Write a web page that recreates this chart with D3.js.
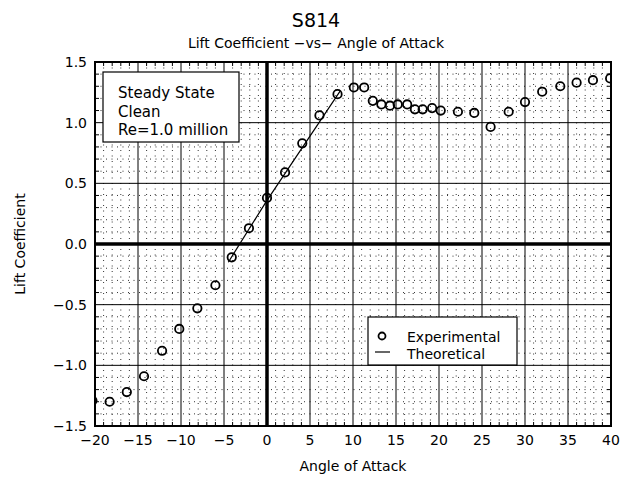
<!DOCTYPE html>
<html>
<head>
<meta charset="utf-8">
<script src="https://cdn.jsdelivr.net/npm/d3@7"></script>
<style>
  body { margin: 0; background: #fff; }
  text { font-family: "DejaVu Sans", sans-serif; fill: #000; }
</style>
</head>
<body>
<svg id="chart" width="620" height="477"></svg>
<script>

// experimental points
var alphaExp = [-20.3, -18.3, -16.3, -14.3, -12.2, -10.2, -8.1, -6.0, -4.1, -2.1,
                0.0, 2.1, 4.1, 6.1, 8.2, 10.1, 11.3, 12.3, 13.3, 14.3,
                15.2, 16.3, 17.2, 18.1, 19.2, 20.2, 22.2, 24.1, 26.0, 28.1,
                30.0, 32.0, 34.1, 36.0, 37.9, 39.9];
var clExp = [-1.29, -1.30, -1.22, -1.09, -0.88, -0.70, -0.53, -0.34, -0.11, 0.13,
             0.38, 0.59, 0.83, 1.06, 1.235, 1.29, 1.29, 1.18, 1.15, 1.14,
             1.15, 1.15, 1.11, 1.11, 1.12, 1.10, 1.09, 1.08, 0.965, 1.09,
             1.17, 1.255, 1.30, 1.33, 1.35, 1.365];

// theoretical line
var alphaTheo = [-4.5, 0, 8.5];
var clTheo = [-0.15, 0.36, 1.26];

var xTicks = [-20, -15, -10, -5, 0, 5, 10, 15, 20, 25, 30, 35, 40];
var yTicks = [-1.5, -1.0, -0.5, 0.0, 0.5, 1.0, 1.5];

var titleText = "S814";
var subtitleText = "Lift Coefficient \u2212vs\u2212 Angle of Attack";
var xTitle = "Angle of Attack";
var yTitle = "Lift Coefficient";
var noteLines = ["Steady State", "Clean", "Re=1.0 million"];
var legendLabels = ["Experimental", "Theoretical"];

function drawGraphic() {

  var svg = d3.select("#chart"),
    margin = {top: 62, right: 9, bottom: 51, left: 95},
    width = 620 - margin.left - margin.right,
    height = 477 - margin.top - margin.bottom;

  var x = d3.scaleLinear().domain([-20, 40]).range([0, width]);
  var y = d3.scaleLinear().domain([-1.5, 1.5]).range([height, 0]);

  svg.append("defs").append("clipPath").attr("id", "plotclip")
    .append("rect").attr("width", width).attr("height", height);

  var g = svg.append("g")
    .attr("transform", "translate(" + margin.left + "," + margin.top + ")");

  // minor dotted grid every 1 deg and every 0.1
  var minorX = d3.range(-20, 41, 1).filter(function(d) { return d % 5 != 0; });
  var minorY = d3.range(-15, 16, 1).filter(function(d) { return d % 5 != 0; })
                 .map(function(d) { return d / 10; });

  g.append("g").selectAll("line").data(minorX).enter().append("line")
    .attr("x1", function(d) { return x(d); }).attr("x2", function(d) { return x(d); })
    .attr("y1", 0).attr("y2", height)
    .attr("stroke", "#333").attr("stroke-width", 1).attr("stroke-dasharray", "1,4.5");

  g.append("g").selectAll("line").data(minorY).enter().append("line")
    .attr("y1", function(d) { return y(d); }).attr("y2", function(d) { return y(d); })
    .attr("x1", 0).attr("x2", width)
    .attr("stroke", "#333").attr("stroke-width", 1).attr("stroke-dasharray", "1,4.5");

  // inward minor ticks on all four sides
  var tk = 4;
  var ticksG = g.append("g").attr("stroke", "#000").attr("stroke-width", 1);
  minorX.forEach(function(d) {
    ticksG.append("line").attr("x1", x(d)).attr("x2", x(d)).attr("y1", height).attr("y2", height - tk);
    ticksG.append("line").attr("x1", x(d)).attr("x2", x(d)).attr("y1", 0).attr("y2", tk);
  });
  minorY.forEach(function(d) {
    ticksG.append("line").attr("y1", y(d)).attr("y2", y(d)).attr("x1", 0).attr("x2", tk);
    ticksG.append("line").attr("y1", y(d)).attr("y2", y(d)).attr("x1", width).attr("x2", width - tk);
  });

  // major solid grid
  g.append("g").selectAll("line").data(xTicks).enter().append("line")
    .attr("x1", function(d) { return x(d); }).attr("x2", function(d) { return x(d); })
    .attr("y1", 0).attr("y2", height)
    .attr("stroke", "#000").attr("stroke-width", function(d) { return d == 0 ? 3.5 : 1; });

  g.append("g").selectAll("line").data(yTicks).enter().append("line")
    .attr("y1", function(d) { return y(d); }).attr("y2", function(d) { return y(d); })
    .attr("x1", 0).attr("x2", width)
    .attr("stroke", "#000").attr("stroke-width", function(d) { return d == 0 ? 3.5 : 1; });

  // frame
  g.append("rect").attr("width", width).attr("height", height)
    .attr("fill", "none").attr("stroke", "#000").attr("stroke-width", 2);

  // tick labels
  var fmtY = d3.format(".1f");
  g.append("g").selectAll("text").data(yTicks).enter().append("text")
    .attr("x", -8).attr("y", function(d) { return y(d) + 5; })
    .attr("text-anchor", "end").style("font-size", "14px")
    .text(function(d) { return fmtY(d); });

  var fmtX = d3.format("d");
  g.append("g").selectAll("text").data(xTicks).enter().append("text")
    .attr("x", function(d) { return x(d); }).attr("y", height + 19)
    .attr("text-anchor", "middle").style("font-size", "14px")
    .text(function(d) { return fmtX(d); });

  // theoretical line
  var line = d3.line()
    .x(function(d) { return x(d[0]); })
    .y(function(d) { return y(d[1]); });
  g.append("path")
    .datum(d3.zip(alphaTheo, clTheo))
    .attr("d", line)
    .attr("fill", "none").attr("stroke", "#000").attr("stroke-width", 1.2);

  // experimental circles
  g.append("g").attr("clip-path", "url(#plotclip)")
    .selectAll("circle").data(d3.zip(alphaExp, clExp)).enter().append("circle")
    .attr("cx", function(d) { return x(d[0]); })
    .attr("cy", function(d) { return y(d[1]); })
    .attr("r", 4.2)
    .attr("fill", "none").attr("stroke", "#000").attr("stroke-width", 1.8);

  // note box
  var note = g.append("g").attr("transform", "translate(8,10)");
  note.append("rect").attr("width", 136).attr("height", 70)
    .attr("fill", "#fff").attr("stroke", "#000").attr("stroke-width", 1.2);
  note.selectAll("text").data(noteLines).enter().append("text")
    .attr("x", 15).attr("y", function(d, i) { return 26 + i * 18.5; })
    .style("font-size", "15px")
    .text(function(d) { return d; });

  // legend
  var leg = g.append("g").attr("transform", "translate(273,255)");
  leg.append("rect").attr("width", 149).attr("height", 48)
    .attr("fill", "#fff").attr("stroke", "#000").attr("stroke-width", 1.2);
  leg.append("circle").attr("cx", 14).attr("cy", 19).attr("r", 3.5)
    .attr("fill", "none").attr("stroke", "#000").attr("stroke-width", 1.8);
  leg.append("line").attr("x1", 7).attr("x2", 22).attr("y1", 35).attr("y2", 35)
    .attr("stroke", "#000").attr("stroke-width", 1.2);
  leg.selectAll("text").data(legendLabels).enter().append("text")
    .attr("x", 39).attr("y", function(d, i) { return 25 + i * 17; })
    .style("font-size", "14px")
    .text(function(d) { return d; });

  // titles
  svg.append("text").attr("x", 316).attr("y", 27).attr("text-anchor", "middle")
    .style("font-size", "19px").text(titleText);
  svg.append("text").attr("x", 316).attr("y", 48).attr("text-anchor", "middle")
    .style("font-size", "14px").text(subtitleText);
  svg.append("text").attr("x", margin.left + width / 2).attr("y", 471).attr("text-anchor", "middle")
    .style("font-size", "14px").text(xTitle);
  svg.append("text").attr("transform", "translate(25," + (margin.top + height / 2) + ") rotate(-90)")
    .attr("text-anchor", "middle")
    .style("font-size", "14px").text(yTitle);
}

drawGraphic();
</script>
</body>
</html>
